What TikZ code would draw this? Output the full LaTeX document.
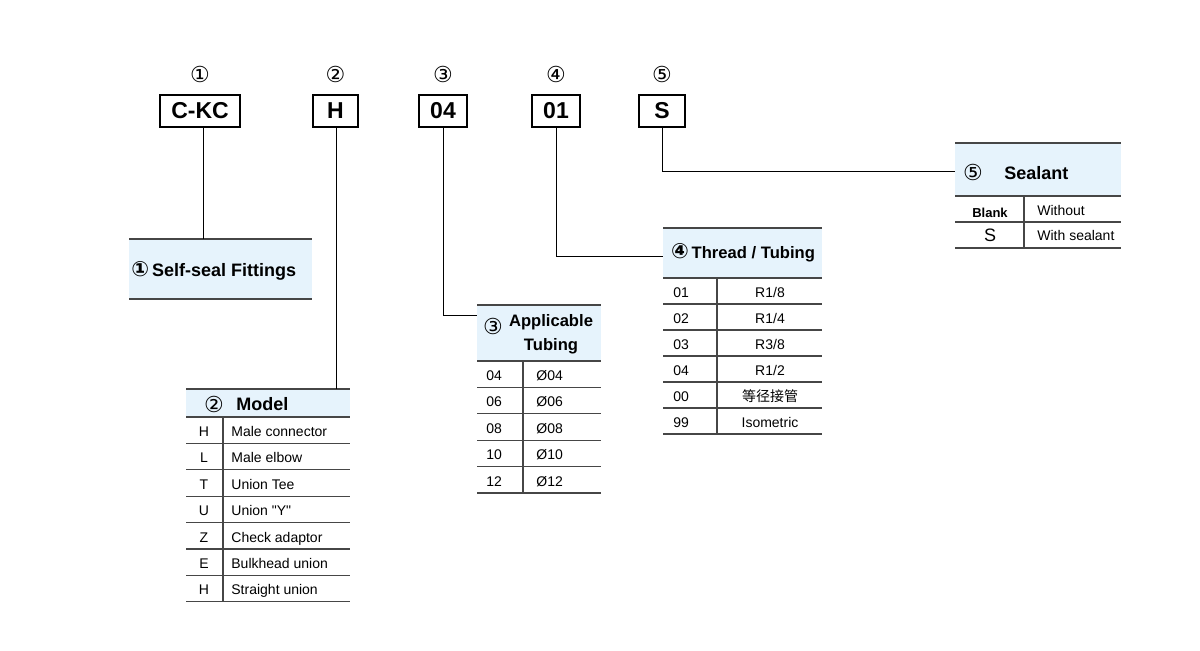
\documentclass[tikz,border=0pt]{standalone}
\usepackage{fontspec}
\setmainfont{Liberation Sans}
\newfontfamily\symfont{DejaVu Sans}
\newfontfamily\cjk{Noto Sans CJK SC}
\usepackage{tikz}
\usetikzlibrary{positioning,calc}
\definecolor{headblue}{RGB}{230,243,252}
\definecolor{rulegrey}{RGB}{70,70,70}
\tikzset{
  pn/code/.style={draw, line width=0.6pt, inner sep=0pt, minimum height=16pt, font=\fontsize{11.5}{12}\selectfont\bfseries},
  pn/num/.style={inner sep=0pt, font=\symfont\fontsize{11}{12}\selectfont},
  pn/head/.style={fill=headblue},
  pn/title/.style={inner sep=0pt, align=center, font=\fontsize{9}{11}\selectfont\bfseries},
  pn/cell/.style={inner sep=0pt, text height=1.6ex, text depth=0.4ex, font=\fontsize{7}{8}\selectfont},
  pn/rule/.style={draw=rulegrey, line width=0.6pt},
  pn/thick/.style={draw=rulegrey, line width=0.9pt},
  pn/line/.style={draw, line width=0.5pt}
}
\newcommand{\circnum}[1]{{\symfont\fontsize{10.5}{11}\selectfont #1}}
\begin{document}
\begin{tikzpicture}[x=0.5pt, y=-0.5pt]
  \useasboundingbox (0,0) rectangle (1200,650);

  % code boxes with position numbers
  \node[pn/code, minimum width=40pt] (ckc) at (200,111) {C-KC};
  \node[pn/code, minimum width=22.5pt] (cH) at (335.5,111) {H};
  \node[pn/code, minimum width=24pt] (c04) at (443,111) {04};
  \node[pn/code, minimum width=24pt] (c01) at (556,111) {01};
  \node[pn/code, minimum width=23pt] (cS) at (662,111) {S};
  \node[pn/num, above=5.5pt of ckc] (n1) {①};
  \node[pn/num, above=5.5pt of cH] (n2) {②};
  \node[pn/num, above=5.5pt of c04] (n3) {③};
  \node[pn/num, above=5.5pt of c01] (n4) {④};
  \node[pn/num, above=5.5pt of cS] (n5) {⑤};

  % table 1: series
  \fill[pn/head] (129,239) rectangle (312,299);
  \draw[pn/thick] (129,239) -- (312,239);
  \draw[pn/thick] (129,299) -- (312,299);
  \coordinate (j1) at (203,239);
  \node[pn/title, anchor=west] (t1) at (131,271) {\circnum{①}\,Self-seal Fittings};

  % table 2: model
  \fill[pn/head] (186,389) rectangle (350,417);
  \draw[pn/thick] (186,389) -- (350,389);
  \draw[pn/thick] (186,417) -- (350,417);
  \coordinate (j2) at (336,389);
  \node[pn/num] (t2n) at (214,404) {②};
  \node[pn/title, anchor=west] (t2) at (236,404) {Model};
  \foreach \c/\t [count=\i] in {H/Male connector, L/Male elbow, T/Union Tee,
      U/Union \textquotedbl Y\textquotedbl, Z/Check adaptor, E/Bulkhead union, H/Straight union} {
    \node[pn/cell] at (204,{417+26.4*\i-13.2}) {\c};
    \node[pn/cell, anchor=west] at (231,{417+26.4*\i-13.2}) {\t};
    \draw[pn/rule] (186,{417+26.4*\i}) -- (350,{417+26.4*\i});
  }
  \draw[pn/rule] (223,417) -- (223,602);

  % table 3: applicable tubing
  \fill[pn/head] (477,305) rectangle (601,361);
  \draw[pn/thick] (477,305) -- (601,305);
  \draw[pn/thick] (477,361) -- (601,361);
  \coordinate (j3) at (477,315);
  \node[pn/num] (t3n) at (493,326) {③};
  \node[pn/title, font=\fontsize{8.3}{10}\selectfont\bfseries] (t3) at (551,322) {Applicable};
  \node[pn/title, font=\fontsize{8.3}{10}\selectfont\bfseries] (t3b) at (551,346) {Tubing};
  \foreach \c [count=\i] in {04,06,08,10,12} {
    \node[pn/cell, anchor=west] at (486,{361+26.4*\i-13.2}) {\c};
    \node[pn/cell, anchor=west] at (536,{361+26.4*\i-13.2}) {Ø\c};
    \draw[pn/rule] (477,{361+26.4*\i}) -- (601,{361+26.4*\i});
  }
  \draw[pn/rule] (523,361) -- (523,493);

  % table 4: thread / tubing
  \fill[pn/head] (663,228) rectangle (822,278);
  \draw[pn/thick] (663,228) -- (822,228);
  \draw[pn/thick] (663,278) -- (822,278);
  \coordinate (j4) at (663,256);
  \node[pn/title, font=\fontsize{8.3}{10}\selectfont\bfseries] (t4) at (743,253) {\circnum{④}\,Thread / Tubing};
  \foreach \c/\t [count=\i] in {01/{R1/8}, 02/{R1/4}, 03/{R3/8}, 04/{R1/2}, 00/{\cjk 等径接管}, 99/Isometric} {
    \node[pn/cell, anchor=west] at (673,{278+26*\i-13}) {\c};
    \node[pn/cell] at (770,{278+26*\i-13}) {\t};
    \draw[pn/rule] (663,{278+26*\i}) -- (822,{278+26*\i});
  }
  \draw[pn/rule] (717,278) -- (717,434);

  % table 5: sealant
  \fill[pn/head] (955,143) rectangle (1121,196);
  \draw[pn/thick] (955,143) -- (1121,143);
  \draw[pn/thick] (955,196) -- (1121,196);
  \coordinate (j5) at (955,171);
  \node[pn/num] (t5n) at (973,172) {⑤};
  \node[pn/title, anchor=west] (t5) at (1004,173) {Sealant};
  \node[pn/cell, font=\fontsize{6.5}{8}\selectfont\bfseries] at (990,211) {Blank};
  \node[pn/cell, font=\fontsize{9}{10}\selectfont] at (990,235) {S};
  \node[pn/cell, anchor=west] at (1037,209) {Without};
  \node[pn/cell, anchor=west] at (1037,234) {With sealant};
  \draw[pn/rule] (955,222) -- (1121,222);
  \draw[pn/rule] (955,248) -- (1121,248);
  \draw[pn/rule] (1024,196) -- (1024,248);

  % connectors
  \draw[pn/line] (ckc.south -| j1) -- (j1);
  \draw[pn/line] (cH.south -| j2) -- (j2);
  \draw[pn/line] (c04.south) |- (j3);
  \draw[pn/line] (c01.south) |- (j4);
  \draw[pn/line] (cS.south) |- (j5);
\end{tikzpicture}
\end{document}
